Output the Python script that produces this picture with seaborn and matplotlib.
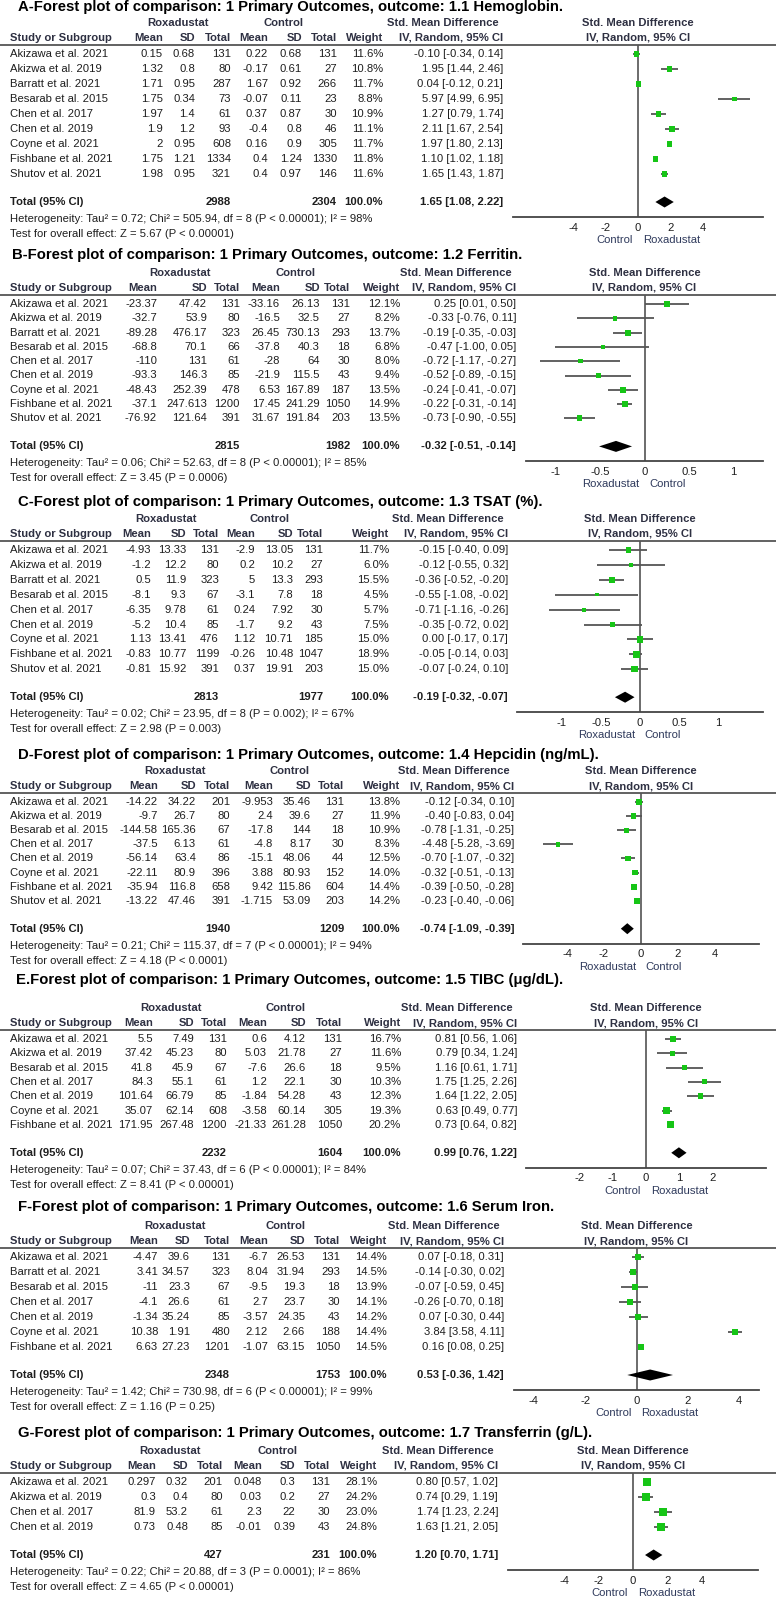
import numpy as np
import pandas as pd
import matplotlib
matplotlib.use("Agg")
import matplotlib.pyplot as plt
import matplotlib.transforms as mtransforms
from matplotlib.lines import Line2D
import seaborn as sns

# ---------------- data ----------------
titles = [
    "A-Forest plot of comparison: 1 Primary Outcomes, outcome: 1.1 Hemoglobin.",
    "B-Forest plot of comparison: 1 Primary Outcomes, outcome: 1.2 Ferritin.",
    "C-Forest plot of comparison: 1 Primary Outcomes, outcome: 1.3 TSAT (%).",
    "D-Forest plot of comparison: 1 Primary Outcomes, outcome: 1.4 Hepcidin (ng/mL).",
    "E.Forest plot of comparison: 1 Primary Outcomes, outcome: 1.5 TIBC (\u03bcg/dL).",
    "F-Forest plot of comparison: 1 Primary Outcomes, outcome: 1.6 Serum Iron.",
    "G-Forest plot of comparison: 1 Primary Outcomes, outcome: 1.7 Transferrin (g/L).",
]

all9 = ["Akizawa et al. 2021", "Akizwa et al. 2019", "Barratt et al. 2021", "Besarab et al. 2015",
        "Chen et al. 2017", "Chen et al. 2019", "Coyne et al. 2021", "Fishbane et al. 2021",
        "Shutov et al. 2021"]

# A - hemoglobin
hb_rox_mean = [0.15, 1.32, 1.71, 1.75, 1.97, 1.9, 2, 1.75, 1.98]
hb_rox_sd = [0.68, 0.8, 0.95, 0.34, 1.4, 1.2, 0.95, 1.21, 0.95]
hb_rox_n = [131, 80, 287, 73, 61, 93, 608, 1334, 321]
hb_ctl_mean = [0.22, -0.17, 1.67, -0.07, 0.37, -0.4, 0.16, 0.4, 0.4]
hb_ctl_sd = [0.68, 0.61, 0.92, 0.11, 0.87, 0.8, 0.9, 1.24, 0.97]
hb_ctl_n = [131, 27, 266, 23, 30, 46, 305, 1330, 146]
hb_weight = [11.6, 10.8, 11.7, 8.8, 10.9, 11.1, 11.7, 11.8, 11.6]
hb_smd = [-0.10, 1.95, 0.04, 5.97, 1.27, 2.11, 1.97, 1.10, 1.65]
hb_lo = [-0.34, 1.44, -0.12, 4.99, 0.79, 1.67, 1.80, 1.02, 1.43]
hb_hi = [0.14, 2.46, 0.21, 6.95, 1.74, 2.54, 2.13, 1.18, 1.87]
hb_total = [2988, 2304, 1.65, 1.08, 2.22]

# B - ferritin
fe_rox_mean = [-23.37, -32.7, -89.28, -68.8, -110, -93.3, -48.43, -37.1, -76.92]
fe_rox_sd = [47.42, 53.9, 476.17, 70.1, 131, 146.3, 252.39, 247.613, 121.64]
fe_rox_n = [131, 80, 323, 66, 61, 85, 478, 1200, 391]
fe_ctl_mean = [-33.16, -16.5, 26.45, -37.8, -28, -21.9, 6.53, 17.45, 31.67]
fe_ctl_sd = [26.13, 32.5, 730.13, 40.3, 64, 115.5, 167.89, 241.29, 191.84]
fe_ctl_n = [131, 27, 293, 18, 30, 43, 187, 1050, 203]
fe_weight = [12.1, 8.2, 13.7, 6.8, 8.0, 9.4, 13.5, 14.9, 13.5]
fe_smd = [0.25, -0.33, -0.19, -0.47, -0.72, -0.52, -0.24, -0.22, -0.73]
fe_lo = [0.01, -0.76, -0.35, -1.00, -1.17, -0.89, -0.41, -0.31, -0.90]
fe_hi = [0.50, 0.11, -0.03, 0.05, -0.27, -0.15, -0.07, -0.14, -0.55]
fe_total = [2815, 1982, -0.32, -0.51, -0.14]

# C - TSAT
ts_rox_mean = [-4.93, -1.2, 0.5, -8.1, -6.35, -5.2, 1.13, -0.83, -0.81]
ts_rox_sd = [13.33, 12.2, 11.9, 9.3, 9.78, 10.4, 13.41, 10.77, 15.92]
ts_rox_n = [131, 80, 323, 67, 61, 85, 476, 1199, 391]
ts_ctl_mean = [-2.9, 0.2, 5, -3.1, 0.24, -1.7, 1.12, -0.26, 0.37]
ts_ctl_sd = [13.05, 10.2, 13.3, 7.8, 7.92, 9.2, 10.71, 10.48, 19.91]
ts_ctl_n = [131, 27, 293, 18, 30, 43, 185, 1047, 203]
ts_weight = [11.7, 6.0, 15.5, 4.5, 5.7, 7.5, 15.0, 18.9, 15.0]
ts_smd = [-0.15, -0.12, -0.36, -0.55, -0.71, -0.35, 0.00, -0.05, -0.07]
ts_lo = [-0.40, -0.55, -0.52, -1.08, -1.16, -0.72, -0.17, -0.14, -0.24]
ts_hi = [0.09, 0.32, -0.20, -0.02, -0.26, 0.02, 0.17, 0.03, 0.10]
ts_total = [2813, 1977, -0.19, -0.32, -0.07]

# D - hepcidin
hep_study = ["Akizawa et al. 2021", "Akizwa et al. 2019", "Besarab et al. 2015", "Chen et al. 2017",
             "Chen et al. 2019", "Coyne et al. 2021", "Fishbane et al. 2021", "Shutov et al. 2021"]
hep_rox_mean = [-14.22, -9.7, -144.58, -37.5, -56.14, -22.11, -35.94, -13.22]
hep_rox_sd = [34.22, 26.7, 165.36, 6.13, 63.4, 80.9, 116.8, 47.46]
hep_rox_n = [201, 80, 67, 61, 86, 396, 658, 391]
hep_ctl_mean = [-9.953, 2.4, -17.8, -4.8, -15.1, 3.88, 9.42, -1.715]
hep_ctl_sd = [35.46, 39.6, 144, 8.17, 48.06, 80.93, 115.86, 53.09]
hep_ctl_n = [131, 27, 18, 30, 44, 152, 604, 203]
hep_weight = [13.8, 11.9, 10.9, 8.3, 12.5, 14.0, 14.4, 14.2]
hep_smd = [-0.12, -0.40, -0.78, -4.48, -0.70, -0.32, -0.39, -0.23]
hep_lo = [-0.34, -0.83, -1.31, -5.28, -1.07, -0.51, -0.50, -0.40]
hep_hi = [0.10, 0.04, -0.25, -3.69, -0.32, -0.13, -0.28, -0.06]
hep_total = [1940, 1209, -0.74, -1.09, -0.39]

# E - TIBC
tibc_study = ["Akizawa et al. 2021", "Akizwa et al. 2019", "Besarab et al. 2015", "Chen et al. 2017",
              "Chen et al. 2019", "Coyne et al. 2021", "Fishbane et al. 2021"]
tibc_rox_mean = [5.5, 37.42, 41.8, 84.3, 101.64, 35.07, 171.95]
tibc_rox_sd = [7.49, 45.23, 45.9, 55.1, 66.79, 62.14, 267.48]
tibc_rox_n = [131, 80, 67, 61, 85, 608, 1200]
tibc_ctl_mean = [0.6, 5.03, -7.6, 1.2, -1.84, -3.58, -21.33]
tibc_ctl_sd = [4.12, 21.78, 26.6, 22.1, 54.28, 60.14, 261.28]
tibc_ctl_n = [131, 27, 18, 30, 43, 305, 1050]
tibc_weight = [16.7, 11.6, 9.5, 10.3, 12.3, 19.3, 20.2]
tibc_smd = [0.81, 0.79, 1.16, 1.75, 1.64, 0.63, 0.73]
tibc_lo = [0.56, 0.34, 0.61, 1.25, 1.22, 0.49, 0.64]
tibc_hi = [1.06, 1.24, 1.71, 2.26, 2.05, 0.77, 0.82]
tibc_total = [2232, 1604, 0.99, 0.76, 1.22]

# F - serum iron
iron_study = ["Akizawa et al. 2021", "Barratt et al. 2021", "Besarab et al. 2015", "Chen et al. 2017",
              "Chen et al. 2019", "Coyne et al. 2021", "Fishbane et al. 2021"]
iron_rox_mean = [-4.47, 3.41, -11, -4.1, -1.34, 10.38, 6.63]
iron_rox_sd = [39.6, 34.57, 23.3, 26.6, 35.24, 1.91, 27.23]
iron_rox_n = [131, 323, 67, 61, 85, 480, 1201]
iron_ctl_mean = [-6.7, 8.04, -9.5, 2.7, -3.57, 2.12, -1.07]
iron_ctl_sd = [26.53, 31.94, 19.3, 23.7, 24.35, 2.66, 63.15]
iron_ctl_n = [131, 293, 18, 30, 43, 188, 1050]
iron_weight = [14.4, 14.5, 13.9, 14.1, 14.2, 14.4, 14.5]
iron_smd = [0.07, -0.14, -0.07, -0.26, 0.07, 3.84, 0.16]
iron_lo = [-0.18, -0.30, -0.59, -0.70, -0.30, 3.58, 0.08]
iron_hi = [0.31, 0.02, 0.45, 0.18, 0.44, 4.11, 0.25]
iron_total = [2348, 1753, 0.53, -0.36, 1.42]

# G - transferrin
tf_study = ["Akizawa et al. 2021", "Akizwa et al. 2019", "Chen et al. 2017", "Chen et al. 2019"]
tf_rox_mean = [0.297, 0.3, 81.9, 0.73]
tf_rox_sd = [0.32, 0.4, 53.2, 0.48]
tf_rox_n = [201, 80, 61, 85]
tf_ctl_mean = [0.048, 0.03, 2.3, -0.01]
tf_ctl_sd = [0.3, 0.2, 22, 0.39]
tf_ctl_n = [131, 27, 30, 43]
tf_weight = [28.1, 24.2, 23.0, 24.8]
tf_smd = [0.80, 0.74, 1.74, 1.63]
tf_lo = [0.57, 0.29, 1.23, 1.21]
tf_hi = [1.02, 1.19, 2.24, 2.05]
tf_total = [427, 231, 1.20, 0.70, 1.71]

heterogeneity = [
    "Heterogeneity: Tau\u00b2 = 0.72; Chi\u00b2 = 505.94, df = 8 (P < 0.00001); I\u00b2 = 98%",
    "Heterogeneity: Tau\u00b2 = 0.06; Chi\u00b2 = 52.63, df = 8 (P < 0.00001); I\u00b2 = 85%",
    "Heterogeneity: Tau\u00b2 = 0.02; Chi\u00b2 = 23.95, df = 8 (P = 0.002); I\u00b2 = 67%",
    "Heterogeneity: Tau\u00b2 = 0.21; Chi\u00b2 = 115.37, df = 7 (P < 0.00001); I\u00b2 = 94%",
    "Heterogeneity: Tau\u00b2 = 0.07; Chi\u00b2 = 37.43, df = 6 (P < 0.00001); I\u00b2 = 84%",
    "Heterogeneity: Tau\u00b2 = 1.42; Chi\u00b2 = 730.98, df = 6 (P < 0.00001); I\u00b2 = 99%",
    "Heterogeneity: Tau\u00b2 = 0.22; Chi\u00b2 = 20.88, df = 3 (P = 0.0001); I\u00b2 = 86%",
]
overall = [
    "Test for overall effect: Z = 5.67 (P < 0.00001)",
    "Test for overall effect: Z = 3.45 (P = 0.0006)",
    "Test for overall effect: Z = 2.98 (P = 0.003)",
    "Test for overall effect: Z = 4.18 (P < 0.0001)",
    "Test for overall effect: Z = 8.41 (P < 0.00001)",
    "Test for overall effect: Z = 1.16 (P = 0.25)",
    "Test for overall effect: Z = 4.65 (P < 0.00001)",
]
favours = [("Control", "Roxadustat"), ("Roxadustat", "Control"), ("Roxadustat", "Control"),
           ("Roxadustat", "Control"), ("Control", "Roxadustat"), ("Control", "Roxadustat"),
           ("Control", "Roxadustat")]
axis_ticks = [[-4, -2, 0, 2, 4], [-1, -0.5, 0, 0.5, 1], [-1, -0.5, 0, 0.5, 1], [-4, -2, 0, 2, 4],
              [-2, -1, 0, 1, 2], [-4, -2, 0, 2, 4], [-4, -2, 0, 2, 4]]
axis_half = [7.76, 1.33, 1.57, 6.38, 3.61, 4.77, 7.27]

# ---------------- layout (pixels of a 776 x 1600 page) ----------------
W, H = 776, 1600
title_y = [7, 255, 502, 755, 980, 1207, 1433]
group_y = [23, 273, 519, 771, 1008, 1226, 1451]
title_x = [18, 12, 18, 18, 16, 18, 18]
row_step = [15, 14.3, 14.9, 14.1, 14.3, 15, 15]
# right edges: mean, sd, total, ctl mean, ctl sd, ctl total, weight, smd text
cols = [[163, 195, 231, 268, 302, 337, 383, 503],
        [157, 207, 240, 280, 320, 350, 400, 516],
        [151, 186, 219, 255, 293, 323, 389, 508],
        [158, 196, 230, 273, 311, 344, 400, 514],
        [153, 194, 227, 267, 306, 342, 401, 517],
        [158, 190, 230, 268, 305, 340, 387, 504],
        [156, 188, 223, 262, 295, 330, 377, 498]]
forest_x = [(513, 763), (526, 763), (517, 763), (523, 759), (526, 766), (514, 759), (508, 758)]

GREEN = "#16c516"
HEAD = "#2e3042"
TXT = "#1e1e1e"
FS = 8.1

sns.set_style("white")
plt.rcParams["font.family"] = ["Liberation Sans", "DejaVu Sans"]


def make_panel(study, rm, rs, rn, cm, cs, cn, w, smd, lo, hi, total):
    df = pd.DataFrame({"study": study, "rox_mean": rm, "rox_sd": rs, "rox_n": rn,
                       "ctl_mean": cm, "ctl_sd": cs, "ctl_n": cn, "weight": w,
                       "smd": smd, "lo": lo, "hi": hi})
    df["row"] = np.arange(len(df))
    return df, total


panels = [
    make_panel(all9, hb_rox_mean, hb_rox_sd, hb_rox_n, hb_ctl_mean, hb_ctl_sd, hb_ctl_n,
               hb_weight, hb_smd, hb_lo, hb_hi, hb_total),
    make_panel(all9, fe_rox_mean, fe_rox_sd, fe_rox_n, fe_ctl_mean, fe_ctl_sd, fe_ctl_n,
               fe_weight, fe_smd, fe_lo, fe_hi, fe_total),
    make_panel(all9, ts_rox_mean, ts_rox_sd, ts_rox_n, ts_ctl_mean, ts_ctl_sd, ts_ctl_n,
               ts_weight, ts_smd, ts_lo, ts_hi, ts_total),
    make_panel(hep_study, hep_rox_mean, hep_rox_sd, hep_rox_n, hep_ctl_mean, hep_ctl_sd, hep_ctl_n,
               hep_weight, hep_smd, hep_lo, hep_hi, hep_total),
    make_panel(tibc_study, tibc_rox_mean, tibc_rox_sd, tibc_rox_n, tibc_ctl_mean, tibc_ctl_sd,
               tibc_ctl_n, tibc_weight, tibc_smd, tibc_lo, tibc_hi, tibc_total),
    make_panel(iron_study, iron_rox_mean, iron_rox_sd, iron_rox_n, iron_ctl_mean, iron_ctl_sd,
               iron_ctl_n, iron_weight, iron_smd, iron_lo, iron_hi, iron_total),
    make_panel(tf_study, tf_rox_mean, tf_rox_sd, tf_rox_n, tf_ctl_mean, tf_ctl_sd, tf_ctl_n,
               tf_weight, tf_smd, tf_lo, tf_hi, tf_total),
]


def ci_text(est, a, b):
    return f"{est:.2f} [{a:.2f}, {b:.2f}]"


fig = plt.figure(figsize=(W / 100, H / 100), dpi=100)

for k, (df, total) in enumerate(panels):
    n = len(df)
    s = row_step[k]
    col_y = group_y[k] + 15
    line_y = col_y + 6.5
    first = line_y + 9.5
    total_y = first + (n - 1) * s + 28
    axis_y = total_y + 15
    het_y = total_y + 17
    test_y = het_y + 15

    def row(py):
        return (py - first) / s

    x0, x1 = forest_x[k]
    ax = fig.add_axes([x0 / W, 1 - axis_y / H, (x1 - x0) / W, (axis_y - line_y) / H])

    # forest marks
    ax.axvline(0, color="#444444", lw=1.1, zorder=1)
    ax.hlines(df["row"], df["lo"], df["hi"], color="#555555", lw=1.3, zorder=2)
    sns.scatterplot(data=df, x="smd", y="row", size="weight", sizes=(0, 133), size_norm=(0, 100),
                    marker="s", color=GREEN, linewidth=0, legend=False, ax=ax, zorder=3)
    t_est, t_lo, t_hi = total[2], total[3], total[4]
    yt = row(total_y)
    hd = 5.5 / s
    ax.fill([t_lo, t_est, t_hi, t_est], [yt, yt - hd, yt, yt + hd], color="black", lw=0, zorder=3)

    ax.set_xlim(-axis_half[k], axis_half[k])
    ax.set_ylim(row(axis_y), row(line_y))
    ax.set_xlabel("")
    ax.set_ylabel("")
    ax.set_yticks([])
    ax.set_xticks(axis_ticks[k])
    ax.set_xticklabels([f"{t:g}" for t in axis_ticks[k]])
    for side in ["left", "top", "right"]:
        ax.spines[side].set_visible(False)
    ax.spines["bottom"].set_color("#444444")
    ax.spines["bottom"].set_linewidth(1.3)
    ax.tick_params(axis="x", direction="inout", length=8, width=1.2, color="#444444",
                   labelsize=FS, labelcolor=TXT, pad=0)
    ax.patch.set_alpha(0)

    left_lab, right_lab = favours[k]
    ax.annotate(left_lab, xy=(0, 0), xycoords=("data", "axes fraction"), xytext=(-3.5, -16.5),
                textcoords="offset points", ha="right", va="center", fontsize=FS, color="#2f3a5c")
    ax.annotate(right_lab, xy=(0, 0), xycoords=("data", "axes fraction"), xytext=(3.5, -16.5),
                textcoords="offset points", ha="left", va="center", fontsize=FS, color="#2f3a5c")

    # table text: x in page pixels, y in row units of this panel
    tr = mtransforms.blended_transform_factory(fig.transFigure, ax.transData)
    c = cols[k]

    def put(px, y, txt, ha="right", **kw):
        kw.setdefault("fontsize", FS)
        kw.setdefault("color", TXT)
        ax.text(px / W, y, txt, transform=tr, ha=ha, va="center", clip_on=False, **kw)

    put(title_x[k], row(title_y[k]), titles[k], ha="left", fontsize=10.7,
        fontweight="bold", color="black")
    gy = row(group_y[k])
    put((c[0] + c[2]) / 2 - 19, gy, "Roxadustat", ha="center", fontweight="bold", color=HEAD)
    put((c[3] + c[5]) / 2 - 19, gy, "Control", ha="center", fontweight="bold", color=HEAD)
    put(c[7] - 4, gy, "Std. Mean Difference", fontweight="bold", color=HEAD)
    put((x0 + x1) / 2, gy, "Std. Mean Difference", ha="center", fontweight="bold", color=HEAD)
    cy = row(col_y)
    put(10, cy, "Study or Subgroup", ha="left", fontweight="bold", color=HEAD)
    for px, lab in zip(c[:7], ["Mean", "SD", "Total", "Mean", "SD", "Total", "Weight"]):
        put(px, cy, lab, fontweight="bold", color=HEAD)
    put(c[7], cy, "IV, Random, 95% CI", fontweight="bold", color=HEAD)
    put((x0 + x1) / 2, cy, "IV, Random, 95% CI", ha="center", fontweight="bold", color=HEAD)

    for _, r in df.iterrows():
        y = r["row"]
        put(10, y, r["study"], ha="left")
        vals = [f"{r['rox_mean']:g}", f"{r['rox_sd']:g}", f"{int(r['rox_n'])}",
                f"{r['ctl_mean']:g}", f"{r['ctl_sd']:g}", f"{int(r['ctl_n'])}",
                f"{r['weight']:.1f}%", ci_text(r["smd"], r["lo"], r["hi"])]
        for px, v in zip(c, vals):
            put(px, y, v)

    put(10, yt, "Total (95% CI)", ha="left", fontweight="bold")
    put(c[2], yt, f"{total[0]}", fontweight="bold")
    put(c[5], yt, f"{total[1]}", fontweight="bold")
    put(c[6], yt, "100.0%", fontweight="bold")
    put(c[7], yt, ci_text(t_est, t_lo, t_hi), fontweight="bold")
    put(10, row(het_y), heterogeneity[k], ha="left")
    put(10, row(test_y), overall[k], ha="left")

    fig.add_artist(Line2D([0, 1], [1 - line_y / H] * 2, color="#555555", lw=1.3))

fig.savefig("out.png", dpi=100)
